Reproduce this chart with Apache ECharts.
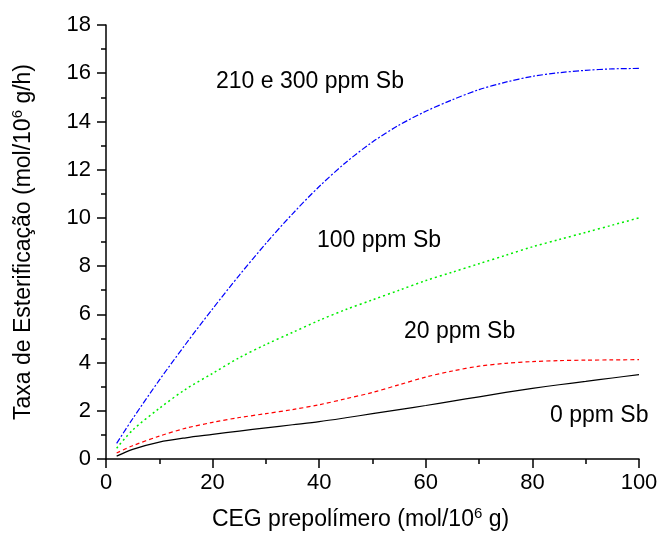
<!DOCTYPE html>
<html>
<head>
<meta charset="utf-8">
<script src="https://cdn.jsdelivr.net/npm/echarts@6/dist/echarts.min.js"></script>
<style>html,body{margin:0;padding:0;background:#fff}#c{width:661px;height:536px}</style>
</head>
<body>
<div id="c"></div>
<script>
var xValues = [2, 5, 10, 15, 20, 25, 30, 35, 40, 45, 50, 55, 60, 65, 70, 75, 80, 85, 90, 95, 100];
var sb0   = [0.12, 0.40, 0.70, 0.88, 1.02, 1.16, 1.29, 1.42, 1.55, 1.71, 1.88, 2.05, 2.22, 2.40, 2.58, 2.76, 2.93, 3.08, 3.22, 3.36, 3.50];
var sb20  = [0.25, 0.55, 0.95, 1.28, 1.52, 1.72, 1.88, 2.05, 2.25, 2.50, 2.76, 3.08, 3.40, 3.65, 3.85, 3.97, 4.04, 4.08, 4.10, 4.11, 4.12];
var sb100 = [0.45, 1.20, 2.10, 2.90, 3.55, 4.20, 4.75, 5.25, 5.75, 6.20, 6.60, 7.00, 7.40, 7.75, 8.10, 8.45, 8.80, 9.10, 9.40, 9.70, 10.00];
var sb210 = [0.65, 1.67, 3.27, 4.78, 6.23, 7.62, 8.94, 10.17, 11.30, 12.30, 13.15, 13.85, 14.42, 14.90, 15.32, 15.63, 15.87, 16.02, 16.12, 16.18, 16.20];
var xTicks = [0, 20, 40, 60, 80, 100];
var yTicks = [0, 2, 4, 6, 8, 10, 12, 14, 16, 18];
var seriesNames = ['0 ppm Sb', '20 ppm Sb', '100 ppm Sb', '210 e 300 ppm Sb'];

function pairs(ys) { return xValues.map(function (x, i) { return [x, ys[i]]; }); }

var FONT = 'Liberation Sans, Arial, sans-serif';
var rich = {
  a: { fontSize: 23, fontFamily: FONT, color: '#000' },
  s: { fontSize: 15, fontFamily: FONT, color: '#000', verticalAlign: 'top', padding: [0, 0, 12, 0] }
};
var chart = echarts.init(document.getElementById('c'));
chart.setOption({
  animation: false,
  backgroundColor: '#fff',
  grid: { left: 106, right: 22, top: 25, bottom: 77, containLabel: false },
  xAxis: {
    type: 'value', min: xTicks[0], max: xTicks[xTicks.length - 1], interval: 20,
    axisLine: { show: true, onZero: false, lineStyle: { color: '#000', width: 1.5 } },
    axisTick: { show: true, inside: false, length: 9, lineStyle: { color: '#000', width: 1.5 } },
    minorTick: { show: true, splitNumber: 2, length: 5, lineStyle: { color: '#000', width: 1.5 } },
    splitLine: { show: false },
    axisLabel: { color: '#000', fontSize: 22, fontFamily: FONT, margin: 13 },
    name: '{a|CEG prepolímero (mol/10}{s|6}{a| g)}',
    nameLocation: 'middle', nameGap: 47,
    nameTextStyle: { padding: [0, 24, 0, 0], rich: rich }
  },
  yAxis: {
    type: 'value', min: yTicks[0], max: yTicks[yTicks.length - 1], interval: 2,
    axisLine: { show: true, onZero: false, lineStyle: { color: '#000', width: 1.5 } },
    axisTick: { show: true, inside: false, length: 9, lineStyle: { color: '#000', width: 1.5 } },
    minorTick: { show: true, splitNumber: 2, length: 5, lineStyle: { color: '#000', width: 1.5 } },
    splitLine: { show: false },
    axisLabel: { color: '#000', fontSize: 22, fontFamily: FONT, margin: 15 },
    name: '{a|Taxa de Esterificação (mol/10}{s|6}{a| g/h)}',
    nameLocation: 'middle', nameGap: 69, nameRotate: 90,
    nameTextStyle: { rich: rich }
  },
  series: [
    { name: seriesNames[0], type: 'line', data: pairs(sb0), smooth: 0.3, showSymbol: false,
      lineStyle: { color: '#000000', width: 1.2, type: 'solid' } },
    { name: seriesNames[1], type: 'line', data: pairs(sb20), smooth: 0.3, showSymbol: false,
      lineStyle: { color: '#ff0000', width: 1.2, type: [4, 3] } },
    { name: seriesNames[2], type: 'line', data: pairs(sb100), smooth: 0.3, showSymbol: false,
      lineStyle: { color: '#00ee00', width: 1.5, type: [2, 3] } },
    { name: seriesNames[3], type: 'line', data: pairs(sb210), smooth: 0.3, showSymbol: false,
      lineStyle: { color: '#0000ff', width: 1.2, type: [6, 2, 2, 2] } }
  ],
  graphic: [
    { type: 'text', left: 216, top: 70, style: { text: seriesNames[3], font: '23px ' + FONT, fill: '#000' } },
    { type: 'text', left: 317, top: 229, style: { text: seriesNames[2], font: '23px ' + FONT, fill: '#000' } },
    { type: 'text', left: 404, top: 320, style: { text: seriesNames[1], font: '23px ' + FONT, fill: '#000' } },
    { type: 'text', left: 550, top: 404, style: { text: seriesNames[0], font: '23px ' + FONT, fill: '#000' } }
  ]
});
</script>
</body>
</html>
